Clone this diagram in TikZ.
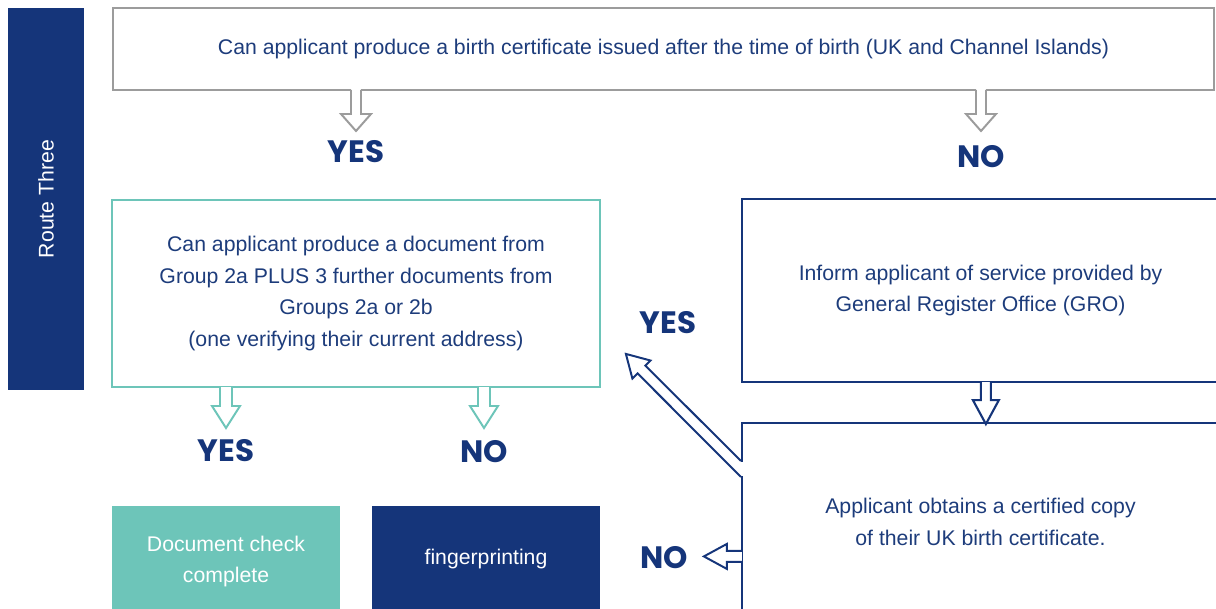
\documentclass[tikz,border=0pt]{standalone}
\usepackage{fontspec}
\setmainfont{Liberation Sans}
\newfontfamily\answerfont{Poppins}
\usetikzlibrary{calc}

\definecolor{routeblue}{HTML}{15357A}
\definecolor{mint}{HTML}{6DC5B9}
\definecolor{stone}{HTML}{9C9C9C}
\definecolor{ink}{HTML}{1D3C7B}

\tikzset{
  box/.style={draw, line width=1.4pt, align=center, text=ink, inner sep=0pt,
    font={\fontsize{15.1}{22.7}\selectfont}},
  solid box/.style={fill=#1, align=center, text=white, inner sep=0pt,
    font={\fontsize{15.1}{22.7}\selectfont}},
  answer/.style={text=routeblue, font={\answerfont\bfseries\fontsize{22}{22}\selectfont}},
  % hollow arrow cut into the edge of a box
  pics/notch/.style n args={4}{code={
      \fill[white] (-#1,-1.5) rectangle (#1,#2);
      \filldraw[fill=white] (-#1,-1) -- (-#1,#2) -- (-#3,#2) -- (0,#2+#4)
        -- (#3,#2) -- (#1,#2) -- (#1,-1);
  }},
}

\begin{document}
\begin{tikzpicture}[x=0.025cm, y=-0.025cm]
  \useasboundingbox (0,0) rectangle (1216,609);
  \clip (0,0) rectangle (1216,609);

  \node[solid box=routeblue, rotate=90, minimum width=9.55cm, minimum height=1.9cm] (route) at (46,199) {Route Three};

  % questions
  \node[box, draw=stone, minimum width=27.525cm, minimum height=2.05cm] (birth) at (663.5,49)
    {Can applicant produce a birth certificate issued after the time of birth (UK and Channel Islands)};
  \node[box, draw=mint, minimum width=12.2cm, minimum height=4.675cm] (group) at (356,293.5)
    {Can applicant produce a document from\\Group 2a PLUS 3 further documents from\\Groups 2a or 2b\\(one verifying their current address)};
  \node[box, draw=routeblue, line width=1.5pt, minimum width=11.925cm, minimum height=4.575cm] (inform) at (980.5,290.5)
    {Inform applicant of service provided by\\General Register Office (GRO)};
  \node[box, draw=routeblue, line width=1.5pt, minimum width=11.925cm, minimum height=4.925cm] (obtain) at (980.5,521.5)
    {Applicant obtains a certified copy\\of their UK birth certificate.};

  % outcomes
  \node[solid box=mint, minimum width=5.7cm, minimum height=2.775cm] (done) at (226,561.5) {Document check\\complete};
  \node[solid box=routeblue, minimum width=5.7cm, minimum height=2.65cm] (finger) at (486,559) {fingerprinting};

  % answers
  \node[answer] (yes1) at (356,152) {YES};
  \node[answer] (no1) at (981,157) {NO};
  \node[answer] (yes2) at (226,451) {YES};
  \node[answer] (no2) at (484,452) {NO};
  \node[answer] (yes3) at (668,323) {YES};
  \node[answer] (no3) at (664,558) {NO};

  % arrows
  \pic[stone, line width=1.4pt] at (yes1 |- birth.south) {notch={5}{23}{15}{17}};
  \pic[stone, line width=1.4pt] at (no1 |- birth.south) {notch={5}{23}{15}{17}};
  \pic[mint, line width=1.4pt] at (yes2 |- group.south) {notch={6}{18}{14}{22}};
  \pic[mint, line width=1.4pt] at (no2 |- group.south) {notch={6}{18}{14}{22}};
  \pic[routeblue, line width=1.5pt] at ($(inform.south west)+(245,0)$) {notch={5}{17}{13}{24}};
  \pic[routeblue, line width=1.4pt, rotate=-90] at ($(obtain.north west)+(0,134.5)$) {notch={5.5}{14}{12.5}{23}};

  \coordinate (tail) at ($(obtain.north west)+(0,39)$);
  \fill[white] ($(tail)+(-2,1)$) rectangle ($(tail)+(2,15)$);
  \filldraw[routeblue, fill=white, line width=1.4pt] (tail) -- ++(-95.5,-95.3) -- ++(5.1,-5.1)
    -- ++(-24.6,-6.6) -- ++(6.5,24.6) -- ++(5.2,-5.1) -- ++(103.3,103.5);
\end{tikzpicture}
\end{document}
